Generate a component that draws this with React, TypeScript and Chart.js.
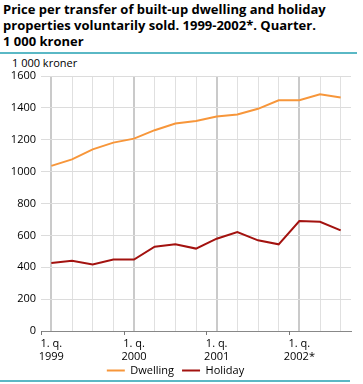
import React, { useEffect, useRef } from "react";
import { Chart, registerables } from "chart.js";

Chart.register(...registerables);

const categories = [
  "1999 Q1", "1999 Q2", "1999 Q3", "1999 Q4",
  "2000 Q1", "2000 Q2", "2000 Q3", "2000 Q4",
  "2001 Q1", "2001 Q2", "2001 Q3", "2001 Q4",
  "2002 Q1", "2002 Q2", "2002 Q3",
];

const tickLabels: (string | string[])[] = [
  ["1. q.", "1999"], "", "", "",
  ["1. q.", "2000"], "", "", "",
  ["1. q.", "2001"], "", "", "",
  ["1. q.", "2002*"], "", "",
];

const dwelling = [1036, 1077, 1140, 1182, 1207, 1260, 1302, 1318, 1346, 1358, 1394, 1448, 1448, 1485, 1465];
const holiday = [427, 440, 417, 448, 448, 529, 544, 517, 579, 621, 569, 544, 690, 685, 631];

const yTicks = [0, 200, 400, 600, 800, 1000, 1200, 1400, 1600];

const FONT = "'Open Sans', 'DejaVu Sans', sans-serif";

const yearTicksPlugin = {
  id: "yearTicks",
  afterLayout(chart: any) {
    // let the two-line tick labels overflow the (compact) axis box without clipping
    const x = chart.scales.x;
    x.bottom = x.top + 40;
  },
  afterDraw(chart: any) {
    const x = chart.scales.x;
    const ctx = chart.ctx;
    const bottom = chart.chartArea.bottom;
    ctx.save();
    ctx.strokeStyle = "#777";
    ctx.lineWidth = 1;
    for (let i = 0; i < categories.length; i += 4) {
      const px = Math.round(x.getPixelForValue(i - 0.5)) + 0.5;
      ctx.beginPath();
      ctx.moveTo(px, bottom);
      ctx.lineTo(px, bottom + 4);
      ctx.stroke();
    }
    ctx.restore();
  },
};

export default function App() {
  const ref = useRef<HTMLCanvasElement | null>(null);
  useEffect(() => {
    if (!ref.current) return;
    const chart = new Chart(ref.current, {
      type: "line",
      data: {
        labels: categories,
        datasets: [
          {
            label: "Dwelling",
            data: dwelling,
            borderColor: "#f7963a",
            backgroundColor: "#f7963a",
            borderWidth: 2,
            pointRadius: 0,
            tension: 0,
          },
          {
            label: "Holiday",
            data: holiday,
            borderColor: "#a3120f",
            backgroundColor: "#a3120f",
            borderWidth: 2,
            pointRadius: 0,
            tension: 0,
          },
        ],
      },
      options: {
        animation: false,
        responsive: false,
        maintainAspectRatio: false,
        layout: { padding: { top: 20, right: 12, left: 0, bottom: 0 } },
        plugins: {
          tooltip: { enabled: false },
          legend: {
            position: "bottom",
            labels: {
              usePointStyle: true,
              pointStyle: "line",
              pointStyleWidth: 18,
              boxHeight: 2,
              padding: 8,
              color: "#000",
              font: { family: FONT, size: 11 },
            },
          },
        },
        scales: {
          x: {
            offset: true,
            border: { display: true, color: "#888", width: 1 },
            grid: {
              offset: false,
              drawTicks: false,
              color: (c: any) => (c.index % 4 === 0 ? "#cacaca" : "#e0e0e0"),
              lineWidth: (c: any) => (c.index % 4 === 0 ? 2 : 1),
            },
            ticks: {
              autoSkip: false,
              maxRotation: 0,
              padding: 6,
              color: "#000",
              font: { family: FONT, size: 11, lineHeight: 1.2 },
              callback: (_v: any, i: number) => tickLabels[i],
            },
            afterFit: (s: any) => {
              s.height = 26;
            },
          },
          y: {
            min: 0,
            max: 1600,
            border: { display: false },
            grid: { color: "#dcdcdc", drawTicks: false, lineWidth: 1 },
            afterBuildTicks: (s: any) => {
              s.ticks = yTicks.map((v) => ({ value: v }));
            },
            ticks: {
              padding: 5,
              color: "#000",
              font: { family: FONT, size: 11 },
              callback: (v: any) => String(v),
            },
            afterFit: (s: any) => {
              s.width = 41;
            },
          },
        },
      },
      plugins: [yearTicksPlugin],
    });
    return () => chart.destroy();
  }, []);

  return (
    <div style={{ position: "absolute", left: 0, top: 0, width: 363, height: 384, overflow: "hidden", background: "#fff", fontFamily: FONT }}>
      <div style={{ position: "absolute", left: 3, top: 1, fontWeight: 700, fontSize: 13, lineHeight: "16px", color: "#000", whiteSpace: "nowrap" }}>
        Price per transfer of built-up dwelling and holiday
        <br />
        properties voluntarily sold. 1999-2002*. Quarter.
        <br />1 000 kroner
      </div>
      <div style={{ position: "absolute", left: 0, top: 52, width: 357, height: 2, background: "#5ab8c5" }} />
      <div style={{ position: "absolute", left: 12, top: 56, fontSize: 11, lineHeight: "14px", color: "#000" }}>1 000 kroner</div>
      <canvas ref={ref} width={363} height={330} style={{ position: "absolute", left: 0, top: 56, width: 363, height: 330 }} />
      <div style={{ position: "absolute", left: 0, top: 380, width: 350, height: 2, background: "#5ab8c5" }} />
    </div>
  );
}
